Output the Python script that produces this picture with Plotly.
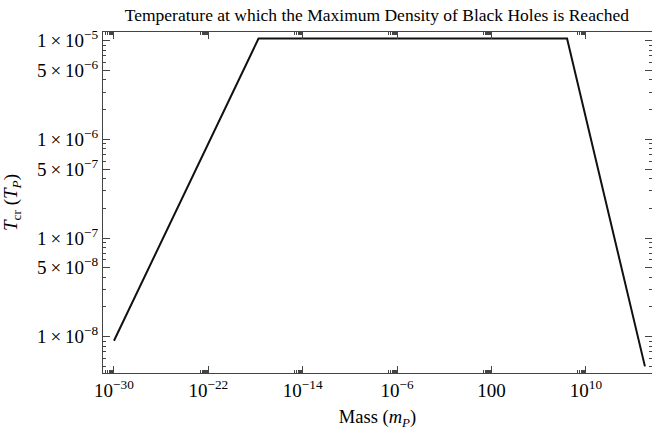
import plotly.graph_objects as go
import numpy as np

# Data (log-log)
mass = [1e-30, 10**-17.75, 10**8.4, 1e15]
temp = [9.1e-9, 1.05e-5, 1.05e-5, 5.0e-9]

x_tickvals = [1e-30, 1e-22, 1e-14, 1e-6, 1e2, 1e10]
x_ticktext = ["10<sup>−30</sup>", "10<sup>−22</sup>", "10<sup>−14</sup>",
              "10<sup>−6</sup>", "100", "10<sup>10</sup>"]
y_tickvals = [1e-5, 5e-6, 1e-6, 5e-7, 1e-7, 5e-8, 1e-8]
y_ticktext = ["1\u2009×\u200910<sup>−5</sup>", "5\u2009×\u200910<sup>−6</sup>",
              "1\u2009×\u200910<sup>−6</sup>", "5\u2009×\u200910<sup>−7</sup>",
              "1\u2009×\u200910<sup>−7</sup>", "5\u2009×\u200910<sup>−8</sup>",
              "1\u2009×\u200910<sup>−8</sup>"]

x_minor = [m * v / 10 for v in x_tickvals for m in range(2, 10)]

FONT = "Liberation Serif, Times New Roman, serif"
AX = "#444444"

fig = go.Figure()
fig.add_trace(go.Scatter(x=mass, y=temp, mode="lines",
                         line=dict(color="#111111", width=2), showlegend=False,
                         hoverinfo="skip"))

fig.update_layout(
    width=652, height=430,
    margin=dict(l=103, r=0, t=32, b=57),
    paper_bgcolor="white", plot_bgcolor="white",
    font=dict(family=FONT, size=18, color="black"),
    title=dict(text="Temperature at which the Maximum Density of Black Holes is Reached",
               x=0.578, xanchor="center", y=1 - 15/430, yanchor="middle",
               yref="container", font=dict(family=FONT, size=17.5, color="black")),
)

fig.update_xaxes(
    type="log", range=[-30.93, 15.6],
    tickvals=x_tickvals, ticktext=x_ticktext,
    ticks="inside", ticklen=7, tickwidth=1, tickcolor=AX,
    showline=True, linecolor=AX, linewidth=1.2, mirror="ticks",
    showgrid=False, zeroline=False,
    tickfont=dict(family=FONT, size=19, color="black"),
    minor=dict(tickvals=x_minor, ticks="inside", ticklen=3, tickcolor=AX, showgrid=False),
    title=dict(text="Mass (<i>m</i><sub><i>P</i></sub>)", standoff=11,
               font=dict(family=FONT, size=18.5, color="black")),
    automargin=False,
)
fig.update_yaxes(
    type="log", range=[-8.368, -4.912],
    tickvals=y_tickvals, ticktext=y_ticktext,
    ticks="inside", ticklen=7, tickwidth=1, tickcolor=AX,
    showline=True, linecolor=AX, linewidth=1.2, mirror="ticks",
    showgrid=False, zeroline=False,
    tickfont=dict(family=FONT, size=19, color="black"),
    minor=dict(dtick="D1", ticks="inside", ticklen=3, tickcolor=AX, showgrid=False),
    title=dict(text="<i>T</i><sub>cr</sub> (<i>T</i><sub><i>P</i></sub>)", standoff=14,
               font=dict(family=FONT, size=19, color="black")),
    automargin=False,
)

fig.write_html("out.html")
